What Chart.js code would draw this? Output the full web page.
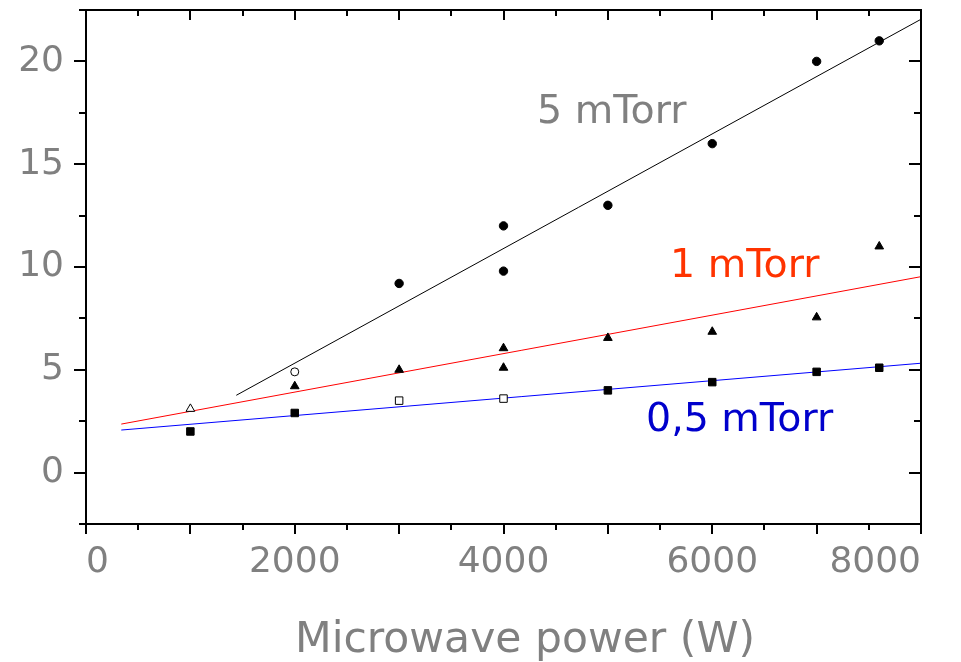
<!DOCTYPE html>
<html><head><meta charset="utf-8">
<script src="https://cdn.jsdelivr.net/npm/chart.js@4"></script>
<style>html,body{margin:0;padding:0;background:#fff;overflow:hidden}canvas{display:block}</style>
</head><body>
<canvas id="c" width="961" height="662"></canvas>
<script>
// ---- data ----
const xLabelValues = [0, 2000, 4000, 6000, 8000];
const yLabelValues = [0, 5, 10, 15, 20];
const xTitle = 'Microwave power (W)';

// 5 mTorr (circles)
const power5 = [3000, 4000, 4000, 5000, 6000, 7000, 7600];
const value5 = [9.2, 12.0, 9.8, 13.0, 16.0, 20.0, 21.0];
const power5Open = [2000];
const value5Open = [4.9];
const fit5X = [1440, 8000];
const fit5Y = [3.76, 22.05];

// 1 mTorr (triangles)
const power1 = [2000, 3000, 4000, 4000, 5000, 6000, 7000, 7600];
const value1 = [4.2, 5.0, 6.05, 5.1, 6.55, 6.85, 7.55, 11.0];
const power1Open = [1000];
const value1Open = [3.1];
const fit1X = [338, 8000];
const fit1Y = [2.36, 9.53];

// 0,5 mTorr (squares)
const power05 = [1000, 2000, 5000, 6000, 7000, 7600];
const value05 = [2.0, 2.9, 4.0, 4.4, 4.9, 5.1];
const power05Open = [3000, 4000];
const value05Open = [3.5, 3.6];
const fit05X = [338, 8000];
const fit05Y = [2.07, 5.32];

const seriesLabels = ['5 mTorr', '1 mTorr', '0,5 mTorr'];

// ---- helpers ----
const pts = (xs, ys) => xs.map((x, i) => ({x, y: ys[i]}));
const FONT = 'DejaVu Sans';
const GRAY = '#808080';

function markers(xs, ys, style, radius, open) {
  return {
    data: pts(xs, ys), showLine: false, pointStyle: style, pointRadius: radius,
    pointBackgroundColor: open ? '#ffffff' : '#000000',
    pointBorderColor: '#000000', pointBorderWidth: 1, pointHoverRadius: radius
  };
}
function fitLine(xs, ys, color) {
  return {
    data: pts(xs, ys), showLine: true, borderColor: color, borderWidth: 1,
    pointRadius: 0, pointHoverRadius: 0, fill: false, tension: 0
  };
}

const framePlugin = {
  id: 'frame',
  afterDraw(chart) {
    const {ctx, chartArea: a, scales: {x, y}} = chart;
    ctx.save();
    ctx.strokeStyle = '#000';
    ctx.lineWidth = 2;
    ctx.strokeRect(a.left, a.top, a.right - a.left, a.bottom - a.top);
    ctx.beginPath();
    x.ticks.forEach(t => {
      const px = Math.round(x.getPixelForValue(t.value));
      const len = t.value % 1000 === 0 ? 10 : 6;
      ctx.moveTo(px, a.bottom); ctx.lineTo(px, a.bottom + len);
      ctx.moveTo(px, a.top); ctx.lineTo(px, a.top + len);
    });
    y.ticks.forEach(t => {
      const py = Math.round(y.getPixelForValue(t.value));
      const len = t.value % 5 === 0 ? 12 : 7;
      ctx.moveTo(a.left, py); ctx.lineTo(a.left - len, py);
      ctx.moveTo(a.right, py); ctx.lineTo(a.right - len, py);
    });
    ctx.stroke();

    // axis title
    ctx.fillStyle = GRAY;
    ctx.font = '42.5px "' + FONT + '"';
    ctx.textAlign = 'center';
    ctx.textBaseline = 'alphabetic';
    ctx.fillText(xTitle, 525, 652);

    // series annotations
    ctx.font = '39.5px "' + FONT + '"';
    ctx.textAlign = 'left';
    ctx.fillStyle = GRAY;
    ctx.fillText(seriesLabels[0], 537, 123);
    ctx.fillStyle = '#FF3300';
    ctx.fillText(seriesLabels[1], 670, 277);
    ctx.fillStyle = '#0000CC';
    ctx.fillText(seriesLabels[2], 646, 431);
    ctx.restore();
  }
};

new Chart(document.getElementById('c'), {
  type: 'scatter',
  data: {
    datasets: [
      markers(power5, value5, 'circle', 4.2, false),
      markers(power5Open, value5Open, 'circle', 4, true),
      markers(power1, value1, 'triangle', 5, false),
      markers(power1Open, value1Open, 'triangle', 5, true),
      markers(power05, value05, 'rect', 5.3, false),
      markers(power05Open, value05Open, 'rect', 5.3, true),
      fitLine(fit5X, fit5Y, '#000000'),
      fitLine(fit1X, fit1Y, '#FF0000'),
      fitLine(fit05X, fit05Y, '#0000FF')
    ]
  },
  options: {
    responsive: false,
    animation: false,
    events: [],
    layout: {padding: {left: 0, right: 40, top: 10, bottom: 0}},
    plugins: {legend: {display: false}, tooltip: {enabled: false}, title: {display: false}},
    scales: {
      x: {
        type: 'linear', position: 'bottom', min: 0, max: 8000,
        grid: {display: false, drawTicks: false}, border: {display: false},
        ticks: {
          stepSize: 500, autoSkip: false, maxRotation: 0, minRotation: 0,
          align: 'inner', padding: 21, color: GRAY,
          font: {family: FONT, size: 36, lineHeight: 1},
          callback: v => xLabelValues.includes(v) ? String(v) : ''
        },
        afterFit: s => { s.height = 138; s.paddingLeft = 0; s.paddingRight = 0; }
      },
      y: {
        type: 'linear', position: 'left', min: -2.5, max: 22.5,
        grid: {display: false, drawTicks: false}, border: {display: false},
        ticks: {
          stepSize: 2.5, autoSkip: false, padding: 22, color: GRAY,
          font: {family: FONT, size: 36, lineHeight: 1},
          callback: v => yLabelValues.includes(v) ? String(v) : ''
        },
        afterFit: s => { s.width = 86; s.paddingTop = 0; s.paddingBottom = 0; }
      }
    }
  },
  plugins: [framePlugin]
});
</script>
</body></html>
